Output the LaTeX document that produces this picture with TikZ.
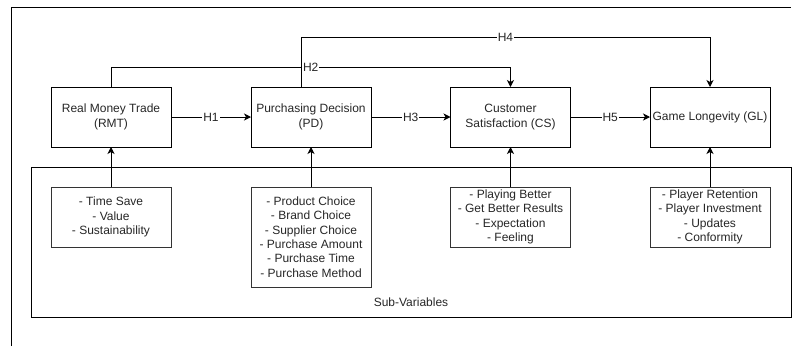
\documentclass[tikz,border=0pt]{standalone}
\usepackage{fontspec}
\setmainfont{Liberation Sans}
\usetikzlibrary{arrows.meta}
\begin{document}
\begin{tikzpicture}[x=1pt,y=-1pt,
  every node/.style={font=\fontsize{12}{14.4}\selectfont, text=black!85},
  varbox/.style={draw=black, line width=0.8pt, minimum width=120pt, minimum height=60pt,
    inner sep=1pt, outer sep=0pt, align=center},
  subbox/.style={draw=black!80, line width=0.8pt, minimum width=120pt,
    inner sep=1pt, outer sep=0pt, align=center},
  link/.style={line width=0.8pt, -{Stealth[length=7pt,width=7pt,inset=2pt]}},
  hlabel/.style={fill=white, inner sep=1pt}]
  \useasboundingbox (0,0) rectangle (796,346);

  % partial outer frame
  \coordinate (frameL) at (11,346);
  \coordinate (frameTL) at (11,7);
  \coordinate (frameR) at (791,7);
  \draw[line width=0.8pt] (frameL) -- (frameTL) -- (frameR);

  % sub-variables group
  \node[draw=black, line width=0.8pt, minimum width=760pt, minimum height=150pt,
        inner sep=0pt, outer sep=0pt] (group) at (411,242) {};
  \node (grouplabel) at (411,302) {Sub-Variables};

  % main variables
  \node[varbox] (rmt) at (111,117) {Real Money Trade\\(RMT)};
  \node[varbox] (pd)  at (311,117) {Purchasing Decision\\(PD)};
  \node[varbox] (cs)  at (510.5,117) {Customer\\Satisfaction (CS)};
  \node[varbox] (gl)  at (710,117) {Game Longevity (GL)};

  % sub-variable lists
  \node[subbox, minimum height=60pt]  (rmts) at (111,217) {- Time Save\\- Value\\- Sustainability};
  \node[subbox, minimum height=100pt] (pds)  at (311,237) {- Product Choice\\- Brand Choice\\- Supplier Choice\\- Purchase Amount\\- Purchase Time\\- Purchase Method};
  \node[subbox, minimum height=60pt]  (css)  at (510.5,217) {- Playing Better\\- Get Better Results\\- Expectation\\- Feeling};
  \node[subbox, minimum height=60pt]  (gls)  at (710,217) {- Player Retention\\- Player Investment\\- Updates\\- Conformity};

  % sub-variables feed their variable
  \draw[link] (rmts) -- (rmt);
  \draw[link] (pds.north) -- (pd.south);
  \draw[link] (css) -- (cs);
  \draw[link] (gls) -- (gl);

  % hypotheses
  \coordinate (h4start) at ([xshift=-10pt]pd.north);
  \draw[link] (rmt) -- node[hlabel] {H1} (pd);
  \draw[link] (pd) -- node[hlabel] {H3} (cs);
  \draw[link] (cs) -- node[hlabel] {H5} (gl);
  \draw[link] (h4start) -- (301,37) -- node[hlabel] {H4} (710,37) -- (gl.north);
  \draw[link] (rmt.north) -- (111,67) -- node[hlabel] {H2} (510.5,67) -- (cs.north);
\end{tikzpicture}
\end{document}
